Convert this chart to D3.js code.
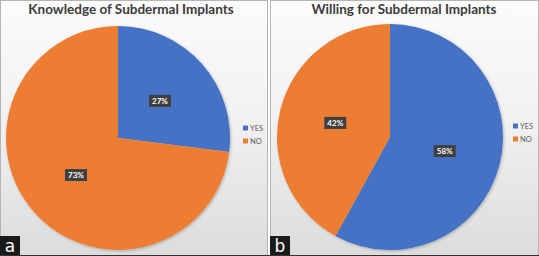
<!DOCTYPE html>
<html>
  <head>
    <meta charset="utf-8">
    <title>Subdermal Implants</title>
    <style>
      body { margin: 0; background: #fff; }
      svg { display: block; }
      .title { font-family: Lato, "Open Sans", sans-serif; font-weight: bold; fill: #3b3b3b; }
      .pct { font-family: Lato, sans-serif; font-weight: bold; font-size: 8px; fill: #fff; }
      .leg { font-family: Lato, sans-serif; font-size: 7.5px; fill: #595959; }
      .tag { font-family: "DejaVu Sans", sans-serif; font-size: 17px; fill: #fff; }
    </style>
  </head>
  <body>
    <svg width="539" height="256"></svg>
    <script src="https://d3js.org/d3.v7.min.js"></script>
    <script type="application/javascript">
      const categories = ['YES', 'NO'];
      const knowledge = [27, 73];
      const willing = [58, 42];
      const titles = ['Knowledge of Subdermal Implants', 'Willing for Subdermal Implants'];
      const tags = ['a', 'b'];

      const svg = d3.select('svg');
      const color = d3.scaleOrdinal().domain(categories).range(['#4472c4', '#ed7d31']);

      const defs = svg.append('defs');
      const grad = defs.append('linearGradient').attr('id', 'bg')
        .attr('x1', 0).attr('y1', 0).attr('x2', 0).attr('y2', 1);
      grad.append('stop').attr('offset', '0%').attr('stop-color', '#fbfbfb');
      grad.append('stop').attr('offset', '45%').attr('stop-color', '#f2f2f2');
      grad.append('stop').attr('offset', '100%').attr('stop-color', '#dcdcdc');

      const shadow = defs.append('filter').attr('id', 'sh')
        .attr('x', '-10%').attr('y', '-10%').attr('width', '120%').attr('height', '120%');
      shadow.append('feGaussianBlur').attr('in', 'SourceAlpha').attr('stdDeviation', 1.5);
      shadow.append('feOffset').attr('dx', 1).attr('dy', 1).attr('result', 'b');
      shadow.append('feComponentTransfer').append('feFuncA').attr('type', 'linear').attr('slope', 0.25);
      const merge = shadow.append('feMerge');
      merge.append('feMergeNode');
      merge.append('feMergeNode').attr('in', 'SourceGraphic');

      const panels = [
        {x: 0, w: 268, values: knowledge, cx: 118, cy: 138, r: 112, legX: 243, legY: 128, titleX: 131, titleSize: 13.5},
        {x: 270, w: 269, values: willing, cx: 390, cy: 137, r: 113, legX: 513, legY: 126, titleX: 404, titleSize: 13.5}
      ];

      const pie = d3.pie().sort(null).value(d => d.v);

      panels.forEach((p, i) => {
        const g = svg.append('g');
        g.append('rect').attr('x', p.x).attr('y', 0).attr('width', p.w).attr('height', 256)
          .attr('fill', 'url(#bg)');
        g.append('rect').attr('x', p.x + 0.5).attr('y', 0.5).attr('width', p.w - 1).attr('height', 255)
          .attr('fill', 'none').attr('stroke', '#b5b5b5').attr('stroke-width', 1);

        g.append('text').attr('class', 'title')
          .attr('x', p.titleX).attr('y', 14)
          .attr('text-anchor', 'middle')
          .style('font-size', p.titleSize + 'px')
          .text(titles[i]);

        const data = categories.map((c, k) => ({c, v: p.values[k]}));
        const arcs = pie(data);
        const arc = d3.arc().innerRadius(0).outerRadius(p.r);
        const labelArc = d3.arc().innerRadius(p.r * 0.5).outerRadius(p.r * 0.5);

        const pg = g.append('g').attr('transform', `translate(${p.cx},${p.cy})`);
        pg.append('g').attr('filter', 'url(#sh)')
          .selectAll('path').data(arcs).enter()
          .append('path')
          .attr('d', arc)
          .attr('fill', d => color(d.data.c));

        const lab = pg.selectAll('.lab').data(arcs).enter()
          .append('g').attr('class', 'lab')
          .attr('transform', d => `translate(${labelArc.centroid(d)})`);
        lab.append('rect').attr('x', -11).attr('y', -6).attr('width', 22).attr('height', 12)
          .attr('fill', '#404040');
        lab.append('text').attr('class', 'pct')
          .attr('text-anchor', 'middle').attr('dy', '0.35em')
          .text(d => d.data.v + '%');

        const leg = g.selectAll('.legend').data(categories).enter()
          .append('g')
          .attr('transform', (d, k) => `translate(${p.legX},${p.legY + k * 13})`);
        leg.append('rect').attr('x', 0).attr('y', -2.5).attr('width', 5).attr('height', 5)
          .attr('fill', d => color(d));
        leg.append('text').attr('class', 'leg').attr('x', 7).attr('dy', '0.35em').text(d => d);

        g.append('rect').attr('x', p.x).attr('y', 236).attr('width', 20).attr('height', 20)
          .attr('fill', '#1a1a1a');
        g.append('text').attr('class', 'tag')
          .attr('x', p.x + 10).attr('y', 252).attr('text-anchor', 'middle')
          .text(tags[i]);
      });

      svg.append('line').attr('x1', 0).attr('x2', 539).attr('y1', 255.5).attr('y2', 255.5)
        .attr('stroke', '#333');
    </script>
  </body>
</html>
